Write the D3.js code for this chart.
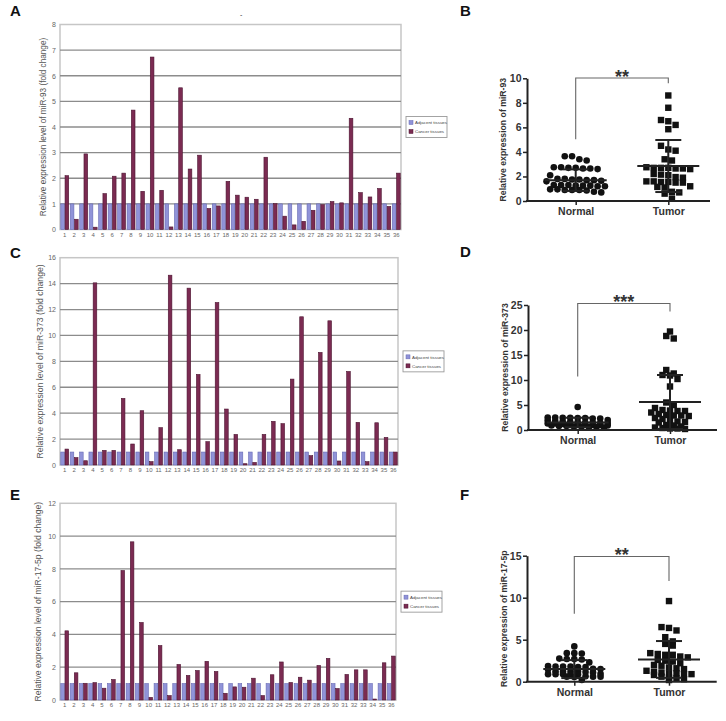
<!DOCTYPE html>
<html><head><meta charset="utf-8">
<script src="https://cdn.jsdelivr.net/npm/d3@7"></script>
<style>body{margin:0;background:#fff}svg{display:block;font-family:"Liberation Sans",Arial,sans-serif}</style>
</head><body>
<svg id="chart" width="726" height="721"></svg>
<script>
// ---------- data ----------
const sampleLabels = ["1","2","3","4","5","6","7","8","9","10","11","12","13","14","15","16","17","18","19","20","21","22","23","24","25","26","27","28","29","30","31","32","33","34","35","36"];
const seriesNames = ["Adjacent tissues","Cancer tissues"];
const adjacentTissue = [1,1,1,1,1,1,1,1,1,1,1,1,1,1,1,1,1,1,1,1,1,1,1,1,1,1,1,1,1,1,1,1,1,1,1,1];
const cancerMiR93 = [2.1,0.4,2.95,0.09,1.4,2.08,2.2,4.66,1.49,6.73,1.53,0.1,5.53,2.36,2.9,0.82,0.92,1.88,1.34,1.26,1.18,2.82,1.01,0.52,0.18,0.32,0.75,0.97,1.09,1.04,4.34,1.44,1.27,1.6,0.9,2.2];
const cancerMiR373 = [1.23,0.57,0.33,14.06,1.13,1.13,5.14,1.62,4.19,0.26,2.88,14.65,1.18,13.65,6.99,1.8,12.54,4.32,2.36,0.1,0.2,2.36,3.37,3.19,6.63,11.44,0.72,8.69,11.13,0.31,7.22,3.29,0.26,3.26,2.13,1.0];
const cancerMiR17 = [4.22,1.66,1.02,1.06,0.72,1.25,7.9,9.65,4.73,0.16,3.32,0.27,2.17,1.5,1.8,2.36,1.74,0.41,0.8,0.78,1.33,0.27,1.54,2.32,1.07,1.39,1.21,2.11,2.54,0.7,1.56,1.84,1.84,0.06,2.27,2.68];

const groups = ["Normal","Tumor"];
const normalMiR93 = [3.65,3.4,3.3,3.65,2.75,2.7,2.7,2.65,2.6,2.65,2.75,2.1,1.8,1.75,1.7,1.65,1.8,1.7,1.75,1.6,1.3,1.25,1.3,1.2,1.25,1.3,1.2,1.25,0.95,0.9,0.9,0.95,0.85,0.9,0.7,0.75];
const tumorMiR93 = [8.6,7.6,6.6,6.5,6.2,5.85,4.5,4.2,4.1,3.4,3.3,2.75,2.7,2.65,2.7,2.6,2.7,2.65,2.2,2.15,2.1,1.95,1.9,1.6,1.5,1.55,1.5,1.6,1.55,1.2,1.15,1.1,0.75,0.7,0.6,0.2];
const meanMiR93 = [1.7,2.85];
const sdMiR93 = [0.88,2.12];

const normalMiR373 = [4.6,2.5,2.4,2.45,2.5,2.3,2.4,2.45,2.3,2.0,1.9,1.8,1.7,1.6,1.5,1.5,1.4,1.3,1.3,1.2,1.2,1.1,1.1,1.0,1.0,0.9,0.9,0.8,0.8,0.7,0.7,0.6,0.6,0.5,1.6,1.4];
const tumorMiR373 = [19.7,18.8,18.3,12,11.3,11,10.9,10.2,8.7,5.5,5.0,4.4,4.0,3.9,3.8,3.8,3.5,3.2,3.0,2.9,2.9,2.8,2.4,2.2,1.8,1.7,1.6,1.5,1.0,0.9,0.7,0.5,0.4,0.3,0.2,0.3];
const meanMiR373 = [1.5,5.6];
const sdMiR373 = [0.95,5.4];

const normalMiR17 = [4.2,3.4,3.35,3.4,2.7,2.65,2.7,2.75,2.3,1.8,1.75,1.85,1.8,1.75,1.8,1.5,1.55,1.45,1.2,1.15,1.2,1.25,1.1,1.2,0.9,0.85,0.95,0.9,0.85,0.9,0.6,0.65,0.6,0.55,0.6,0.2];
const tumorMiR17 = [9.6,6.5,6.4,6.1,5.3,4.8,4.5,4.3,3.4,3.3,3.2,3.2,3.0,2.6,2.5,2.4,2.2,2.0,1.9,1.7,1.5,1.3,1.2,1.0,1.0,0.9,0.9,0.8,0.6,0.5,0.4,0.3,0.2,1.1,2.9,1.6];
const meanMiR17 = [1.5,2.65];
const sdMiR17 = [1.07,2.19];

const significance = ["**","***","**"];
const panelLetters = ["A","B","C","D","E","F"];

// ---------- drawing ----------
const svg = d3.select("#chart");
svg.append("rect").attr("width",726).attr("height",721).attr("fill","#fff");

const BLUE = "#9093d8", BLUE_S = "#6669b4", RED = "#7b2b52", RED_S = "#4c1431";

function barPanel(o){
  const g = svg.append("g");
  const x = d3.scaleBand().domain(sampleLabels).range([o.x0,o.x1]).paddingInner(0.1).paddingOuter(0.05);
  const sub = d3.scaleBand().domain(seriesNames).range([0,x.bandwidth()]).padding(0);
  const y = d3.scaleLinear().domain([0,o.max]).range([o.yb,o.yt]);
  const ticks = d3.range(0,o.max+1e-6,o.step);
  g.append("rect").attr("x",o.x0).attr("y",o.yt).attr("width",o.x1-o.x0).attr("height",o.yb-o.yt)
    .attr("fill","#fff").attr("stroke","#c6c6c6").attr("stroke-width",1.5);
  g.selectAll(".grid").data(ticks.filter(t=>t>0&&t<o.max)).join("line")
    .attr("x1",o.x0).attr("x2",o.x1).attr("y1",d=>y(d)).attr("y2",d=>y(d))
    .attr("stroke","#8c8c8c").attr("stroke-width",1.3);
  const rows = sampleLabels.map((s,i)=>({s, vals:[adjacentTissue[i], o.cancer[i]]}));
  const cg = g.selectAll(".cat").data(rows).join("g").attr("transform",d=>`translate(${x(d.s)},0)`);
  cg.selectAll("rect").data(d=>d.vals.map((v,k)=>({k,v}))).join("rect")
    .attr("x",d=>sub(seriesNames[d.k])+0.3).attr("width",sub.bandwidth()-0.6)
    .attr("y",d=>y(d.v)).attr("height",d=>o.yb-y(d.v))
    .attr("fill",d=>d.k===0?BLUE:RED).attr("stroke",d=>d.k===0?BLUE_S:RED_S).attr("stroke-width",0.6);
  const ya = g.append("g").attr("transform",`translate(${o.x0},0)`)
    .call(d3.axisLeft(y).tickValues(ticks).tickSize(0).tickPadding(4).tickFormat(d3.format("d")));
  ya.select(".domain").remove();
  ya.selectAll("text").attr("font-size",7).attr("fill","#666").attr("font-family","Liberation Sans, Arial");
  const xa = g.append("g").attr("transform",`translate(0,${o.yb})`)
    .call(d3.axisBottom(x).tickSize(0).tickPadding(3));
  xa.select(".domain").remove();
  xa.selectAll("text").attr("font-size",6).attr("fill","#666").attr("font-family","Liberation Sans, Arial");
  g.append("text").attr("transform",`translate(${o.labelX},${(o.yt+o.yb)/2}) rotate(-90)`)
    .attr("text-anchor","middle").attr("dominant-baseline","central")
    .attr("font-size",o.labelSize).attr("fill","#555").text(o.label);
  // legend
  const lx = o.x1+5, ly = (o.yt+o.yb)/2-10.5;
  const lg = g.append("g").attr("transform",`translate(${lx},${ly})`);
  lg.append("rect").attr("width",41).attr("height",21).attr("fill","#fff").attr("stroke","#9a9a9a").attr("stroke-width",0.9);
  seriesNames.forEach((n,i)=>{
    lg.append("rect").attr("x",3).attr("y",4+i*9).attr("width",4).attr("height",4)
      .attr("fill",i===0?BLUE:RED).attr("stroke",i===0?BLUE_S:RED_S).attr("stroke-width",0.5);
    lg.append("text").attr("x",9).attr("y",7.8+i*9).attr("font-size",4.4).attr("fill","#444").text(n);
  });
}

// column-scatter layout: points grouped into rows (by pixel height, capped row length), spread symmetrically
function swarm(vals, cx, y, spacing, binH, maxRow){
  const pts = vals.map(v=>({v, py:y(v)})).sort((a,b)=>a.py-b.py);
  const rows=[]; let cur=null;
  pts.forEach(p=>{
    if(!cur || p.py-cur.start>binH || cur.items.length>=maxRow){cur={start:p.py,items:[]};rows.push(cur);}
    cur.items.push(p);
  });
  rows.forEach((r,ri)=>{
    const n=r.items.length;
    const shift = (n%2===0 && ri%2===1) ? 0 : 0;
    r.items.forEach((p,i)=>{p.px=cx+(i-(n-1)/2)*spacing+shift;});
  });
  return pts;
}

function scatterPanel(o){
  const g = svg.append("g");
  const y = d3.scaleLinear().domain([0,o.max]).range([o.y0,o.yTop]);
  const x = d3.scalePoint().domain(groups).range([o.cN,o.cT]);
  const ticks = d3.range(0,o.max+1e-6,o.step);
  const ptsN = swarm(o.normal, x("Normal"), y, o.spacing, o.binH, o.maxRow[0]);
  const ptsT = swarm(o.tumor, x("Tumor"), y, o.spacing, o.binH, o.maxRow[1]);
  g.selectAll(".pn").data(ptsN).join("circle").attr("cx",d=>d.px).attr("cy",d=>d.py).attr("r",3.3).attr("fill","#111");
  g.selectAll(".pt").data(ptsT).join("rect").attr("x",d=>d.px-3.2).attr("y",d=>d.py-3.2).attr("width",6.4).attr("height",6.4).attr("fill","#111");
  groups.forEach((gr,i)=>{
    const cx = x(gr), m = o.mean[i], s = o.sd[i];
    g.append("line").attr("x1",cx-31).attr("x2",cx+31).attr("y1",y(m)).attr("y2",y(m)).attr("stroke","#222").attr("stroke-width",2);
    g.append("line").attr("x1",cx).attr("x2",cx).attr("y1",y(Math.max(0,m-s))).attr("y2",y(m+s)).attr("stroke","#222").attr("stroke-width",2);
    [m+s, Math.max(0,m-s)].forEach(v=>g.append("line").attr("x1",cx-13).attr("x2",cx+13).attr("y1",y(v)).attr("y2",y(v)).attr("stroke","#222").attr("stroke-width",2));
  });
  const ya = g.append("g").attr("transform",`translate(${o.ax},0)`)
    .call(d3.axisLeft(y).tickValues(ticks).tickSize(4).tickSizeOuter(0).tickPadding(1.5));
  ya.select(".domain").attr("stroke","#222").attr("stroke-width",2);
  ya.selectAll(".tick line").attr("stroke","#222").attr("stroke-width",1.5);
  ya.selectAll("text").attr("font-size",10.5).attr("font-weight","bold").attr("fill","#333").attr("font-family","Liberation Sans, Arial");
  g.append("line").attr("x1",o.ax-1).attr("x2",o.axEnd).attr("y1",o.y0).attr("y2",o.y0).attr("stroke","#222").attr("stroke-width",2);
  const xa = g.append("g").attr("transform",`translate(0,${o.y0})`)
    .call(d3.axisBottom(x).tickSize(4).tickPadding(3));
  xa.select(".domain").remove();
  xa.selectAll(".tick line").attr("stroke","#222").attr("stroke-width",1.5);
  xa.selectAll("text").attr("font-size",10.5).attr("font-weight","bold").attr("fill","#333").attr("font-family","Liberation Sans, Arial");
  g.append("text").attr("transform",`translate(${o.labelX},${(o.y0+o.yTop)/2}) rotate(-90)`)
    .attr("text-anchor","middle").attr("dominant-baseline","central")
    .attr("font-size",8.7).attr("font-weight","bold").attr("fill","#333").text(o.label);
  const by = y(o.bracket[0]);
  g.append("path").attr("d",`M${x("Normal")},${y(o.bracket[1])}V${by}H${x("Tumor")}V${y(o.bracket[2])}`)
    .attr("fill","none").attr("stroke","#666").attr("stroke-width",1.1);
  g.append("text").attr("x",(x("Normal")+x("Tumor"))/2).attr("y",by+4.5).attr("text-anchor","middle")
    .attr("font-size",18).attr("font-weight","bold").attr("fill","#333").text(o.sig);
}

barPanel({x0:60,x1:401,yt:24.5,yb:229.5,max:8,step:1,cancer:cancerMiR93,labelX:43,labelSize:8.2,
  label:"Relative expression level of miR-93 (fold change)"});
barPanel({x0:60,x1:398,yt:257.7,yb:465,max:16,step:2,cancer:cancerMiR373,labelX:40,labelSize:8.7,
  label:"Relative expression level of miR-373 (fold change)"});
barPanel({x0:60,x1:396,yt:503.3,yb:700,max:12,step:2,cancer:cancerMiR17,labelX:38,labelSize:8.6,
  label:"Relative expression level of miR-17-5p (fold change)"});

scatterPanel({ax:527,axEnd:710,y0:201,yTop:78.3,max:10,step:2,cN:575.7,cT:668.3,spacing:7.3,binH:6,maxRow:[9,7],
  normal:normalMiR93,tumor:tumorMiR93,mean:meanMiR93,sd:sdMiR93,labelX:503,
  label:"Relative expression of miR-93",bracket:[10.02,5.04,9.6],sig:significance[0]});
scatterPanel({ax:528,axEnd:717,y0:430,yTop:305,max:25,step:5,cN:577.7,cT:670,spacing:7.5,binH:4,maxRow:[9,7],
  normal:normalMiR373,tumor:tumorMiR373,mean:meanMiR373,sd:sdMiR373,labelX:505,
  label:"Relative expression of miR-373",bracket:[25.3,10.7,23.7],sig:significance[1]});
scatterPanel({ax:527,axEnd:716.7,y0:681.7,yTop:555.7,max:15,step:5,cN:574.3,cT:669,spacing:7.5,binH:5,maxRow:[8,7],
  normal:normalMiR17,tumor:tumorMiR17,mean:meanMiR17,sd:sdMiR17,labelX:504,
  label:"Relative expression of miR-17-5p",bracket:[14.9,8.1,12.0],sig:significance[2]});

const letterPos = [[10,16],[460,16],[10,258],[460,257],[10,500],[460,500]];
svg.selectAll(".letter").data(panelLetters).join("text")
  .attr("x",(d,i)=>letterPos[i][0]).attr("y",(d,i)=>letterPos[i][1])
  .attr("font-size",15).attr("font-weight","bold").attr("fill","#111").text(d=>d);
svg.append("text").attr("x",240).attr("y",17).attr("font-size",7).attr("fill","#333").text("-");
</script>
</body></html>
